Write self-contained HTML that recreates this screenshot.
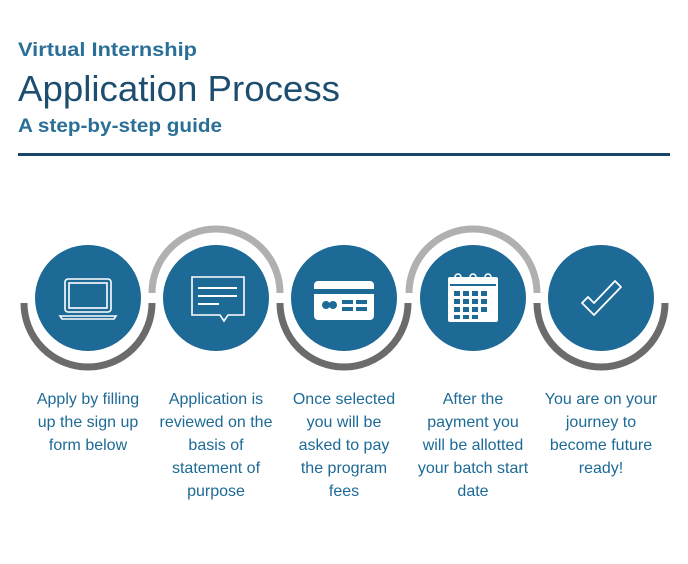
<!DOCTYPE html>
<html><head><meta charset="utf-8"><style>
body{margin:0;background:#fff;}
svg{display:block;}
text{font-family:"Liberation Sans",sans-serif;}
</style></head><body>
<svg width="688" height="564" viewBox="0 0 688 564" xmlns="http://www.w3.org/2000/svg">
<text x="18" y="56" font-size="19" font-weight="bold" fill="#2a6f97" textLength="179" lengthAdjust="spacingAndGlyphs">Virtual Internship</text>
<text x="18" y="101" font-size="36" fill="#1d4e70" textLength="322" lengthAdjust="spacingAndGlyphs">Application Process</text>
<text x="18" y="132" font-size="19" font-weight="bold" fill="#2a6f97" textLength="204" lengthAdjust="spacingAndGlyphs">A step-by-step guide</text>
<rect x="18" y="153" width="652" height="3" fill="#1a456b"/>
<g fill="none" stroke-width="7">
<path d="M24 303 A64 64 0 0 0 152 303" stroke="#6b6b6b"/>
<path d="M280 303 A64 64 0 0 0 408 303" stroke="#6b6b6b"/>
<path d="M537 303 A64 64 0 0 0 665 303" stroke="#6b6b6b"/>
<path d="M152 293 A64 64 0 0 1 280 293" stroke="#b0b0b0"/>
<path d="M409 293 A64 64 0 0 1 537 293" stroke="#b0b0b0"/>
</g>
<g fill="#1d6a96">
<circle cx="88" cy="298" r="53"/>
<circle cx="216" cy="298" r="53"/>
<circle cx="344" cy="298" r="53"/>
<circle cx="473" cy="298" r="53"/>
<circle cx="601" cy="298" r="53"/>
</g>
<g fill="none" stroke="#fff" stroke-width="1.6">
<rect x="65" y="279" width="46" height="33" rx="3"/>
<rect x="69" y="283" width="38" height="25"/>
<path d="M60 316 H116 L114 319 H62 Z"/>
<path d="M192 277 H244 V315 H228 L224 321 L220 315 H192 Z"/>
<path d="M198 288 H237 M198 296 H237 M198 304 H219" stroke-width="2"/>
</g>
<g fill="#fff">
<path d="M318 281 H370 A4 4 0 0 1 374 285 V316 A4 4 0 0 1 370 320 H318 A4 4 0 0 1 314 316 V285 A4 4 0 0 1 318 281Z M314 289 V294 H374 V289Z" fill-rule="evenodd"/>
</g>
<g fill="#1d6a96">
<circle cx="326" cy="305" r="4"/><circle cx="333" cy="305" r="4"/>
<rect x="342" y="300" width="11" height="4"/><rect x="356" y="300" width="11" height="4"/>
<rect x="342" y="307" width="11" height="4"/><rect x="356" y="307" width="11" height="4"/>
</g>
<g>
<rect x="448" y="277" width="50" height="45" rx="2" fill="#fff"/>
<rect x="450" y="284" width="46" height="2" fill="#1d6a96"/>
<g fill="none" stroke="#fff" stroke-width="1.6"><circle cx="458" cy="277" r="3"/><circle cx="473" cy="277" r="3"/><circle cx="488" cy="277" r="3"/></g>
<g fill="#1d6a96">
<rect x="454" y="291" width="6" height="5"/><rect x="463" y="291" width="6" height="5"/><rect x="472" y="291" width="6" height="5"/><rect x="481" y="291" width="6" height="5"/>
<rect x="454" y="299" width="6" height="5"/><rect x="463" y="299" width="6" height="5"/><rect x="472" y="299" width="6" height="5"/><rect x="481" y="299" width="6" height="5"/>
<rect x="454" y="307" width="6" height="5"/><rect x="463" y="307" width="6" height="5"/><rect x="472" y="307" width="6" height="5"/><rect x="481" y="307" width="6" height="5"/>
<rect x="454" y="315" width="6" height="4"/><rect x="463" y="315" width="6" height="4"/><rect x="472" y="315" width="6" height="4"/>
</g>
</g>
<path d="M582 303 L588 297 L594 303 L615 281 L621 287 L594 315 Z" fill="none" stroke="#fff" stroke-width="1.8" stroke-linejoin="round"/>
<g font-size="16" fill="#1d6a96" text-anchor="middle">
<text x="88" y="404">Apply by filling</text>
<text x="88" y="427">up the sign up</text>
<text x="88" y="450">form below</text>
<text x="216" y="404">Application is</text>
<text x="216" y="427">reviewed on the</text>
<text x="216" y="450">basis of</text>
<text x="216" y="473">statement of</text>
<text x="216" y="496">purpose</text>
<text x="344" y="404">Once selected</text>
<text x="344" y="427">you will be</text>
<text x="344" y="450">asked to pay</text>
<text x="344" y="473">the program</text>
<text x="344" y="496">fees</text>
<text x="473" y="404">After the</text>
<text x="473" y="427">payment you</text>
<text x="473" y="450">will be allotted</text>
<text x="473" y="473">your batch start</text>
<text x="473" y="496">date</text>
<text x="601" y="404">You are on your</text>
<text x="601" y="427">journey to</text>
<text x="601" y="450">become future</text>
<text x="601" y="473">ready!</text>
</g>
</svg>
</body></html>
